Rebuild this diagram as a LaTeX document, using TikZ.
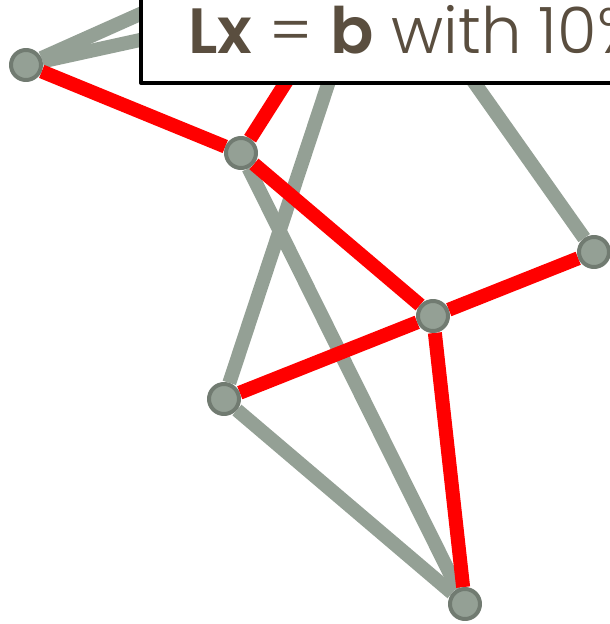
\documentclass[tikz,border=0pt]{standalone}
\usepackage{fontspec}
\setmainfont{Poppins Light}[BoldFont=Poppins SemiBold]
\usepackage{tikz}
\usetikzlibrary{backgrounds}

\definecolor{edgegray}{HTML}{94A095}
\definecolor{nodering}{HTML}{717B71}
\definecolor{textbrown}{HTML}{5A4E3F}

\begin{document}
\begin{tikzpicture}[x=1pt, y=-1pt, line join=round,
      vertex/.style={circle, fill=edgegray, draw=nodering, line width=4pt,
                     minimum size=30pt, inner sep=0pt},
      grayedge/.style={edgegray, line width=14pt},
      rededge/.style={red, line width=14pt}]
      \useasboundingbox (0,0) rectangle (610,624);
      \clip (0,0) rectangle (610,624);

      % Visible vertices
      \node[vertex] (A) at (26,65) {};
      \node[vertex] (B) at (241,153) {};
      \node[vertex] (C) at (594,252) {};
      \node[vertex] (D) at (433,316) {};
      \node[vertex] (E) at (224,399) {};
      \node[vertex] (F) at (465,604) {};
      % Vertices hidden behind the label
      \coordinate (G) at (375,-58);
      \coordinate (H) at (250,-35);
      \coordinate (K) at (560,-52);

      \begin{pgfonlayer}{background}
        % Gray edges
        \draw[grayedge] (A)--(H);
        \draw[grayedge] (A)--(K);
        \draw[grayedge] (G)--(E);
        \draw[grayedge] (G)--(C);
        \draw[grayedge] (B)--(F);
        \draw[grayedge] (E)--(F);
        % Red edges
        \draw[rededge] (A)--(B);
        \draw[rededge] (B)--(G);
        \draw[rededge] (B)--(D);
        \draw[rededge] (E)--(D);
        \draw[rededge] (D)--(C);
        \draw[rededge] (D)--(F);
      \end{pgfonlayer}

      % Label box
      \filldraw[fill=white, draw=black, line width=4pt] (141,-20) rectangle (650,83);
      \node[anchor=base west, inner sep=0pt, text=textbrown,
            font=\fontsize{64}{72}\selectfont] (eq) at (188,53)
            {\textbf{Lx} = \textbf{b} with 10\%};
\end{tikzpicture}
\end{document}
